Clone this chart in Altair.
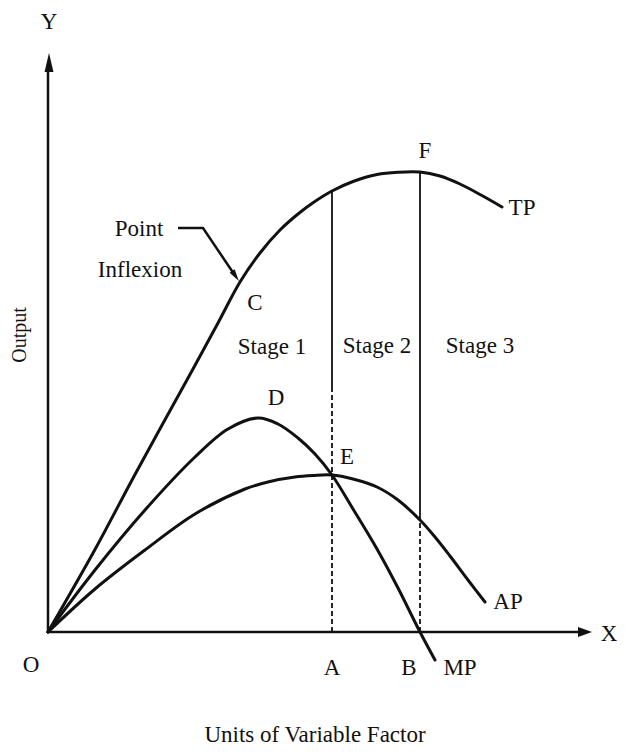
import altair as alt
import pandas as pd

# ---- curve values (x = units of variable factor, y = output) ----
tp_x = [0, 0.94, 1.74, 2.9, 3.4, 3.84, 4.24, 4.64, 5.0, 5.3, 5.68, 6.1, 6.58,
        7.0, 7.44, 7.84, 8.24, 8.66, 9.08]
tp_y = [0, 16.5, 31.5, 52.6, 61.8, 70, 75.8, 80.4, 83.6, 85.85, 88.2, 90.1, 91.5,
        91.95, 92, 91.2, 89.6, 87.4, 85]

mp_x = [0, 0.94, 1.94, 2.94, 3.6, 4.2, 4.6, 5.0, 5.34, 5.68, 6.1, 6.58, 7.0,
        7.44, 7.74]
mp_y = [0, 12.4, 24.4, 35.0, 40.6, 42.8, 41.6, 38.8, 35.6, 31.4, 24.6, 16.6, 8.8,
        0, -5.6]

ap_x = [0, 0.94, 1.94, 2.94, 3.94, 4.44, 4.94, 5.3, 5.68, 6.1, 6.58, 7.0, 7.44,
        7.74, 8.04, 8.4, 8.74]
ap_y = [0, 8.6, 16.4, 23.6, 28.6, 30.1, 31, 31.3, 31.4, 30.6, 29.0, 26.4, 22.4,
        19, 15.2, 10.4, 6]

# stage boundaries: A (AP max = MP) and B (TP max, MP = 0)
x_A = 5.68
x_B = 7.44

XMIN, XMAX = -0.8, 11.38
YMIN, YMAX = -22.8, 124.8

FONT = "Liberation Serif"
INK = "#111111"

xs = alt.Scale(domain=[XMIN, XMAX], nice=False, zero=False)
ys = alt.Scale(domain=[YMIN, YMAX], nice=False, zero=False)


def X(f="x"):
    return alt.X(f"{f}:Q", scale=xs, axis=None)


def Y(f="y"):
    return alt.Y(f"{f}:Q", scale=ys, axis=None)


rows = []
for name, xv, yv in [("TP", tp_x, tp_y), ("MP", mp_x, mp_y), ("AP", ap_x, ap_y)]:
    for i, (a, b) in enumerate(zip(xv, yv)):
        rows.append({"curve": name, "x": a, "y": b, "o": i})
curves_df = pd.DataFrame(rows)

curves = alt.Chart(curves_df).mark_line(
    interpolate="catmull-rom", strokeWidth=3, color=INK, strokeCap="round"
).encode(x=X(), y=Y(), detail="curve:N", order="o:Q")

# vertical guide lines
solid_df = pd.DataFrame({
    "x": [x_A, x_B],
    "y": [48.4, 23.4],
    "y2": [88.2, 92],
})
dash_df = pd.DataFrame({
    "x": [x_A, x_B],
    "y": [0, 0],
    "y2": [48.4, 23.4],
})
solid_rules = alt.Chart(solid_df).mark_rule(color=INK, strokeWidth=1.8).encode(
    x=X(), y=Y(), y2="y2:Q")
dash_rules = alt.Chart(dash_df).mark_rule(
    color=INK, strokeWidth=1.8, strokeDash=[5, 3]).encode(x=X(), y=Y(), y2="y2:Q")

# axes
axes_df = pd.DataFrame({"x": [0, 0], "y": [0, 0], "x2": [0, 10.74], "y2": [113, 0]})
axes = alt.Chart(axes_df).mark_rule(color=INK, strokeWidth=2.5).encode(
    x=X(), y=Y(), x2="x2:Q", y2="y2:Q")

yarrow = alt.Chart(pd.DataFrame({"x": [0.02], "y": [113.9]})).mark_point(
    shape="M0,-1L0.47,1L-0.47,1Z", filled=True, size=361, color=INK, opacity=1
).encode(x=X(), y=Y())
xarrow = alt.Chart(pd.DataFrame({"x": [10.74], "y": [0]})).mark_point(
    shape="M1,0L-1,-0.7L-1,0.7Z", filled=True, size=196, color=INK, opacity=1
).encode(x=X(), y=Y())

# pointer "Point Inflexion" -> C
pointer_df = pd.DataFrame({"x": [2.6, 3.1, 3.72], "y": [80.8, 80.8, 71.6], "o": [0, 1, 2]})
pointer = alt.Chart(pointer_df).mark_line(color=INK, strokeWidth=2.5).encode(
    x=X(), y=Y(), order="o:Q")
pointer_head = alt.Chart(pd.DataFrame({"x": [3.75], "y": [71.2]})).mark_point(
    shape="M0,-1L0.5,1L-0.5,1Z", filled=True, size=144, angle=146, color=INK, opacity=1
).encode(x=X(), y=Y())

# text annotations
labels_df = pd.DataFrame({
    "t": ["Y", "X", "O", "A", "B", "MP", "AP", "TP", "F", "E", "D", "C",
          "Stage 1", "Stage 2", "Stage 3", "Point", "Inflexion",
          "Units of Variable Factor"],
    "x": [0.02, 11.22, -0.34, 5.68, 7.22, 8.24, 9.2, 9.48, 7.54, 5.98, 4.56, 4.14,
          4.48, 6.58, 8.64, 1.82, 1.84, 5.34],
    "y": [122, -0.4, -6.6, -7.2, -7.2, -7.2, 6, 84.8, 96.2, 35, 46.8, 65.8,
          57, 57.2, 57.2, 80.6, 72.4, -20.6],
})
labels = alt.Chart(labels_df).mark_text(
    font=FONT, fontSize=23, color=INK, align="center", baseline="middle"
).encode(x=X(), y=Y(), text="t:N")

ylab = alt.Chart(pd.DataFrame({"t": ["Output"], "x": [-0.56], "y": [59.4]})).mark_text(
    font=FONT, fontSize=20, color=INK, angle=270, align="center", baseline="middle"
).encode(x=X(), y=Y(), text="t:N")

chart = alt.layer(
    dash_rules, solid_rules, axes, yarrow, xarrow, curves, pointer, pointer_head,
    labels, ylab
).properties(
    width=609, height=738, padding=0,
    autosize=alt.AutoSizeParams(type="none"),
    background="white",
).configure_view(stroke=None)

chart.save("out.html", embed_options={"renderer": "svg", "actions": False})
